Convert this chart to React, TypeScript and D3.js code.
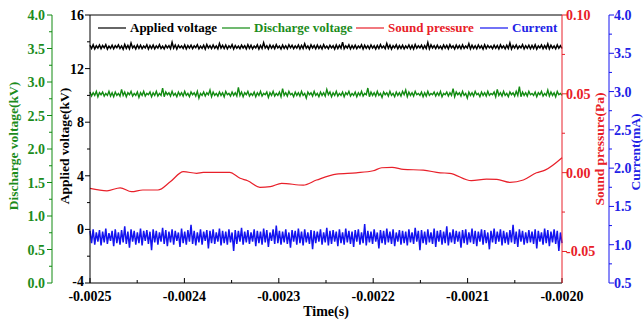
import React from "react";
import * as d3 from "d3";

const timeDomain = [-0.0025, -0.002];
const timeTicks = [-0.0025, -0.0024, -0.0023, -0.0022, -0.0021, -0.002];

const appliedVoltage = [
13.74,13.50,13.78,13.47,13.70,13.53,13.76,13.49,13.72,13.55,13.79,13.46,13.68,13.52,13.75,13.48,13.71,13.56,13.77,13.50,
13.69,13.45,13.80,13.51,13.73,13.48,13.90,13.54,13.70,13.47,13.76,13.52,13.74,13.49,13.68,13.55,13.78,13.46,13.72,13.51,
13.75,13.48,13.70,13.53,13.79,13.50,13.67,13.47,13.74,13.54,13.71,13.49,13.96,13.52,13.76,13.46,13.73,13.55,13.69,13.50,
13.77,13.47,13.72,13.53,13.75,13.49,13.70,13.56,13.78,13.48,13.68,13.51,13.74,13.46,13.80,13.54,13.71,13.49,13.76,13.52,
13.69,13.47,13.87,13.53,13.73,13.50,13.76,13.48,13.70,13.55,13.79,13.46,13.72,13.52,13.68,13.49,13.75,13.54,13.71,13.47,
13.78,13.51,13.74,13.48,13.69,13.55,13.77,13.46,13.73,13.50,13.93,13.53,13.70,13.47,13.76,13.52,13.72,13.49,13.79,13.54,
13.68,13.46,13.75,13.51,13.71,13.48,13.78,13.55,13.74,13.49,13.70,13.53,13.76,13.47,13.73,13.50,13.85,13.52,13.69,13.46,
13.77,13.54,13.72,13.48,13.75,13.51,13.70,13.47,13.79,13.53,13.68,13.49,13.74,13.55,13.71,13.46,13.76,13.50,13.73,13.52,
13.98,13.48,13.70,13.54,13.77,13.47,13.72,13.51,13.75,13.49,13.69,13.55,13.78,13.46,13.74,13.52,13.71,13.48,13.76,13.53,
13.70,13.47,13.73,13.50,13.79,13.54,13.68,13.49,13.88,13.52,13.75,13.46,13.71,13.55,13.77,13.48,13.72,13.51,13.74,13.47,
13.69,13.53,13.76,13.49,13.73,13.46,13.80,13.52,13.70,13.55,13.75,13.48,13.72,13.50,13.94,13.47,13.77,13.54,13.71,13.49,
13.74,13.51,13.68,13.47,13.76,13.53,13.73,13.48,13.79,13.55,13.70,13.46,13.75,13.52,13.72,13.49,13.77,13.50,13.69,13.54,
13.86,13.47,13.74,13.51,13.71,13.48,13.76,13.53,13.70,13.46,13.78,13.50,13.73,13.55,13.68,13.49,13.75,13.52,13.72,13.47,
13.77,13.54,13.70,13.48,13.74,13.51,13.91,13.46,13.72,13.53,13.76,13.49,13.69,13.55,13.79,13.47,13.71,13.52,13.75,13.48,
13.73,13.50,13.78,13.46,13.70,13.54,13.76,13.49,13.72,13.51,13.84,13.47,13.74,13.53,13.69,13.48,13.77,13.52,13.71,13.50];

const dischargeVoltage = [
2.85,2.79,2.84,2.80,2.86,2.78,2.84,2.81,2.85,2.79,2.83,2.80,2.86,2.79,2.84,2.78,2.85,2.80,2.83,2.79,
2.89,2.80,2.85,2.78,2.84,2.81,2.86,2.79,2.83,2.80,2.85,2.77,2.84,2.80,2.86,2.79,2.83,2.81,2.85,2.78,
2.84,2.80,2.86,2.79,2.83,2.80,2.91,2.78,2.85,2.81,2.84,2.79,2.86,2.80,2.83,2.78,2.85,2.80,2.84,2.79,
2.86,2.80,2.83,2.78,2.85,2.81,2.84,2.79,2.86,2.76,2.83,2.80,2.85,2.79,2.84,2.81,2.88,2.78,2.85,2.80,
2.83,2.79,2.85,2.80,2.84,2.78,2.86,2.81,2.83,2.79,2.85,2.80,2.84,2.79,2.92,2.80,2.85,2.78,2.84,2.81,
2.86,2.79,2.83,2.80,2.85,2.78,2.84,2.80,2.86,2.79,2.83,2.81,2.85,2.77,2.84,2.80,2.86,2.79,2.83,2.80,
2.85,2.78,2.90,2.80,2.84,2.79,2.86,2.81,2.83,2.78,2.85,2.80,2.84,2.79,2.86,2.80,2.83,2.76,2.85,2.81,
2.84,2.79,2.86,2.80,2.83,2.78,2.85,2.80,2.84,2.79,2.89,2.81,2.85,2.78,2.84,2.80,2.86,2.79,2.83,2.80,
2.85,2.78,2.84,2.81,2.86,2.79,2.83,2.80,2.85,2.78,2.84,2.80,2.86,2.79,2.83,2.81,2.91,2.78,2.85,2.80,
2.84,2.79,2.86,2.80,2.83,2.77,2.85,2.81,2.84,2.79,2.86,2.80,2.83,2.78,2.85,2.80,2.84,2.79,2.86,2.81,
2.88,2.78,2.85,2.80,2.84,2.79,2.86,2.81,2.83,2.80,2.85,2.78,2.84,2.79,2.86,2.80,2.83,2.81,2.85,2.79,
2.84,2.80,2.86,2.78,2.83,2.81,2.85,2.79,2.84,2.80,2.90,2.78,2.85,2.81,2.84,2.79,2.86,2.80,2.83,2.76,
2.85,2.80,2.84,2.79,2.86,2.81,2.83,2.78,2.85,2.80,2.84,2.79,2.86,2.80,2.83,2.81,2.85,2.78,2.89,2.80,
2.84,2.79,2.86,2.80,2.83,2.78,2.85,2.81,2.84,2.79,2.86,2.80,2.93,2.78,2.85,2.80,2.84,2.79,2.86,2.81,
2.83,2.80,2.85,2.78,2.84,2.81,2.86,2.79,2.83,2.80,2.88,2.79,2.85,2.80,2.84,2.78,2.86,2.81,2.83,2.80];

const current = [
1.18,1.02,1.20,1.00,1.16,1.04,1.19,0.99,1.17,1.03,1.21,1.01,1.15,1.05,1.18,0.98,1.20,1.02,1.16,1.00,
1.19,1.03,1.24,1.01,1.17,0.96,1.20,1.04,1.18,1.00,1.16,1.02,1.21,0.99,1.18,1.05,1.19,1.01,1.17,0.93,
1.20,1.03,1.18,1.00,1.16,1.04,1.22,1.01,1.19,0.98,1.17,1.03,1.20,1.00,1.18,1.05,1.16,0.97,1.21,1.02,
1.17,1.00,1.19,1.04,1.26,1.01,1.18,0.99,1.16,1.03,1.20,1.00,1.17,1.05,1.19,0.95,1.18,1.02,1.20,1.01,
1.16,1.04,1.21,0.99,1.18,1.02,1.17,1.00,1.20,1.03,1.16,0.92,1.19,1.01,1.18,1.04,1.22,1.00,1.17,1.03,
1.19,1.01,1.16,1.04,1.20,0.98,1.18,1.02,1.17,1.00,1.21,1.03,1.19,0.97,1.16,1.05,1.20,1.01,1.25,1.02,
1.18,1.00,1.17,1.03,1.20,1.01,1.16,0.96,1.19,1.04,1.18,1.00,1.21,1.02,1.17,0.99,1.20,1.03,1.16,1.01,
1.19,0.94,1.18,1.02,1.17,1.04,1.20,1.00,1.16,1.03,1.22,0.99,1.18,1.01,1.19,1.04,1.17,0.98,1.20,1.02,
1.16,1.00,1.21,1.03,1.18,1.01,1.17,0.97,1.19,1.04,1.20,1.00,1.16,1.02,1.27,0.99,1.18,1.03,1.17,1.01,
1.20,1.04,1.16,0.95,1.19,1.02,1.18,1.00,1.21,1.03,1.17,1.01,1.20,0.98,1.16,1.04,1.19,1.00,1.18,1.02,
1.17,0.99,1.20,1.03,1.16,1.01,1.22,1.04,1.18,0.93,1.19,1.02,1.17,1.00,1.20,1.03,1.16,1.01,1.21,0.97,
1.18,1.04,1.19,1.00,1.17,1.02,1.24,0.99,1.16,1.03,1.20,1.01,1.18,1.04,1.17,0.96,1.19,1.02,1.20,1.00,
1.16,1.03,1.21,1.01,1.18,0.98,1.17,1.04,1.20,1.00,1.19,1.02,1.16,0.94,1.18,1.03,1.21,1.01,1.17,1.04,
1.20,0.99,1.18,1.02,1.16,1.00,1.19,1.03,1.26,1.01,1.17,0.97,1.20,1.04,1.18,1.00,1.16,1.02,1.19,1.03,
1.17,1.01,1.20,0.95,1.18,1.04,1.16,1.00,1.21,1.02,1.19,0.98,1.17,1.03,1.20,1.01,1.18,0.92,1.16,1.02];

const soundTime = [-0.0025,-0.002482,-0.002468,-0.002456,-0.002444,-0.002428,-0.002415,-0.002401,
-0.002387,-0.00238,-0.002352,-0.002341,-0.002333,-0.00232,-0.002309,-0.002297,-0.002274,-0.00226,
-0.002239,-0.002218,-0.0022,-0.002191,-0.00218,-0.002168,-0.002147,-0.002129,-0.002119,-0.002096,
-0.00208,-0.002069,-0.002055,-0.002041,-0.002027,-0.002018,-0.002];
const soundPressure = [-0.0100,-0.0115,-0.0096,-0.0121,-0.0110,-0.0110,-0.0058,0.0006,
-0.0004,0.0002,0.0002,-0.0036,-0.0051,-0.0093,-0.0089,-0.0068,-0.0079,-0.0047,
-0.0009,-0.0001,0.0012,0.0031,0.0034,0.0021,0.0016,-0.0001,-0.0004,-0.0051,
-0.0041,-0.0043,-0.0062,-0.0047,-0.0001,0.0016,0.0095];

const appliedTicks = [-4, 0, 4, 8, 12, 16];
const dischargeTicks = [0, 0.5, 1, 1.5, 2, 2.5, 3, 3.5, 4];
const soundTicks = [0.1, 0.05, 0, -0.05];
const currentTicks = [0.5, 1, 1.5, 2, 2.5, 3, 3.5, 4];

const legendItems = ["Applied voltage", "Discharge voltage", "Sound pressure", "Current"];

const BLACK = "#000";
const GREEN = "#118a11";
const RED = "#e8202a";
const BLUE = "#1414f0";
const GREEN_T = "#1c8c1c";
const RED_T = "#e82028";
const BLUE_T = "#2222e6";

export default function App() {
  const L = 90, R = 562, T = 15, B = 283;
  const x = d3.scaleLinear().domain(timeDomain).range([L, R]);
  const yA = d3.scaleLinear().domain([-4, 16]).range([B, T]);
  const yD = d3.scaleLinear().domain([0, 4]).range([B, T]);
  const yS = d3.scaleLinear().domain([-0.07, 0.1]).range([B, T]);
  const yC = d3.scaleLinear().domain([0.5, 4]).range([B, T]);

  const tOf = (i: number, n: number) => timeDomain[0] + (i * (timeDomain[1] - timeDomain[0])) / (n - 1);
  const lineFor = (vals: number[], y: d3.ScaleLinear<number, number>) =>
    d3.line<number>().x((_, i) => x(tOf(i, vals.length))).y((v) => y(v))(vals) || "";
  const soundLine =
    d3.line<number>().x((_, i) => x(soundTime[i])).y((v) => yS(v)).curve(d3.curveMonotoneX)(soundPressure) || "";

  const font = "'Liberation Serif', 'Times New Roman', serif";
  const fs = 14;

  const xMinor = d3.range(0, 11).map((i) => timeDomain[0] + i * 0.00005);
  const aMinor = d3.range(-4, 16.01, 2);
  const dMinor = d3.range(0, 4.01, 0.25);
  const sMinor = d3.range(-0.075, 0.1001, 0.025).filter((v) => v >= -0.07);
  const cMinor = d3.range(0.5, 4.01, 0.25);

  const legendX = [98, 222, 356, 480];

  return (
    <svg width={644} height={320} style={{ position: "absolute", left: 0, top: 0, background: "#fff" }}
      fontFamily={font} fontWeight="bold">
      {/* data */}
      <path d={lineFor(appliedVoltage, yA)} fill="none" stroke={BLACK} strokeWidth={1.5} />
      <path d={lineFor(dischargeVoltage, yD)} fill="none" stroke={GREEN} strokeWidth={1.4} />
      <path d={lineFor(current, yC)} fill="none" stroke={BLUE} strokeWidth={1.5} />
      <path d={soundLine} fill="none" stroke={RED} strokeWidth={1.2} />

      {/* frame */}
      <line x1={L} x2={R} y1={T} y2={T} stroke={BLACK} strokeWidth={1} />
      <line x1={L} x2={R} y1={B} y2={B} stroke={BLACK} strokeWidth={1} />
      <line x1={L} x2={L} y1={T} y2={B} stroke={BLACK} strokeWidth={1} />

      {/* x axis */}
      {xMinor.map((v, i) => (
        <line key={"xm" + i} x1={x(v)} x2={x(v)} y1={B} y2={B - (i % 2 === 0 ? 5 : 3)} stroke={BLACK} />
      ))}
      {timeTicks.map((v) => (
        <text key={"xt" + v} x={x(v)} y={301} fontSize={fs} textAnchor="middle" fill={BLACK}>
          {v.toFixed(4)}
        </text>
      ))}
      <text x={(L + R) / 2} y={316} fontSize={fs} textAnchor="middle" fill={BLACK}>Time(s)</text>

      {/* applied voltage axis */}
      {aMinor.map((v) => (
        <line key={"am" + v} x1={L} x2={L - (v % 4 === 0 ? 5 : 3)} y1={yA(v)} y2={yA(v)} stroke={BLACK} />
      ))}
      {appliedTicks.map((v) => (
        <text key={"at" + v} x={84} y={yA(v) + (v === -4 ? 3 : 5)} fontSize={fs} textAnchor="end" fill={BLACK}>{v}</text>
      ))}
      <text transform={`translate(69,${(T + B) / 2 - 3}) rotate(-90)`} fontSize={13.5} textAnchor="middle" fill={BLACK}>
        Applied voltage(kV)
      </text>

      {/* discharge voltage axis */}
      <line x1={52} x2={52} y1={T} y2={B} stroke={GREEN} />
      {dMinor.map((v) => (
        <line key={"dm" + v} x1={52} x2={52 - (Math.round(v * 4) % 2 === 0 ? 5 : 3)} y1={yD(v)} y2={yD(v)} stroke={GREEN} />
      ))}
      {dischargeTicks.map((v) => (
        <text key={"dt" + v} x={45} y={yD(v) + 5} fontSize={fs} textAnchor="end" fill={GREEN_T}>{v.toFixed(1)}</text>
      ))}
      <text transform={`translate(18,${(T + B) / 2 - 3}) rotate(-90)`} fontSize={13.5} textAnchor="middle" fill={GREEN_T}>
        Discharge voltage(kV)
      </text>

      {/* sound pressure axis */}
      <line x1={R} x2={R} y1={T} y2={B} stroke={RED} />
      {sMinor.map((v, i) => (
        <line key={"sm" + i} x1={R} x2={R + (Math.round(v * 40) % 2 === 0 ? 5 : 3)} y1={yS(v)} y2={yS(v)} stroke={RED} />
      ))}
      {soundTicks.map((v) => (
        <text key={"st" + v} x={566} y={yS(v) + 5} fontSize={fs} textAnchor="start" fill={RED_T}>{v.toFixed(2)}</text>
      ))}
      <text transform={`translate(604,${(T + B) / 2}) rotate(-90)`} fontSize={13.5} textAnchor="middle" fill={RED_T}>
        Sound pressure(Pa)
      </text>

      {/* current axis */}
      <line x1={609} x2={609} y1={T} y2={B} stroke={BLUE} />
      {cMinor.map((v) => (
        <line key={"cm" + v} x1={609} x2={609 + (Math.round(v * 4) % 2 === 0 ? 5 : 3)} y1={yC(v)} y2={yC(v)} stroke={BLUE} />
      ))}
      {currentTicks.map((v) => (
        <text key={"ct" + v} x={614} y={yC(v) + 5} fontSize={fs} textAnchor="start" fill={BLUE_T}>{v.toFixed(1)}</text>
      ))}
      <text transform={`translate(640,${(T + B) / 2 + 3}) rotate(-90)`} fontSize={13.5} textAnchor="middle" fill={BLUE_T}>
        Current(mA)
      </text>

      {/* legend */}
      {legendItems.map((name, i) => {
        const c = [BLACK, GREEN, RED, BLUE][i];
        const tc = [BLACK, GREEN_T, RED_T, BLUE_T][i];
        return (
          <g key={name}>
            <line x1={legendX[i]} x2={legendX[i] + 28} y1={28} y2={28} stroke={c} strokeWidth={1.2} />
            <text x={legendX[i] + 32} y={32} fontSize={13} fill={tc}>{name}</text>
          </g>
        );
      })}
    </svg>
  );
}
